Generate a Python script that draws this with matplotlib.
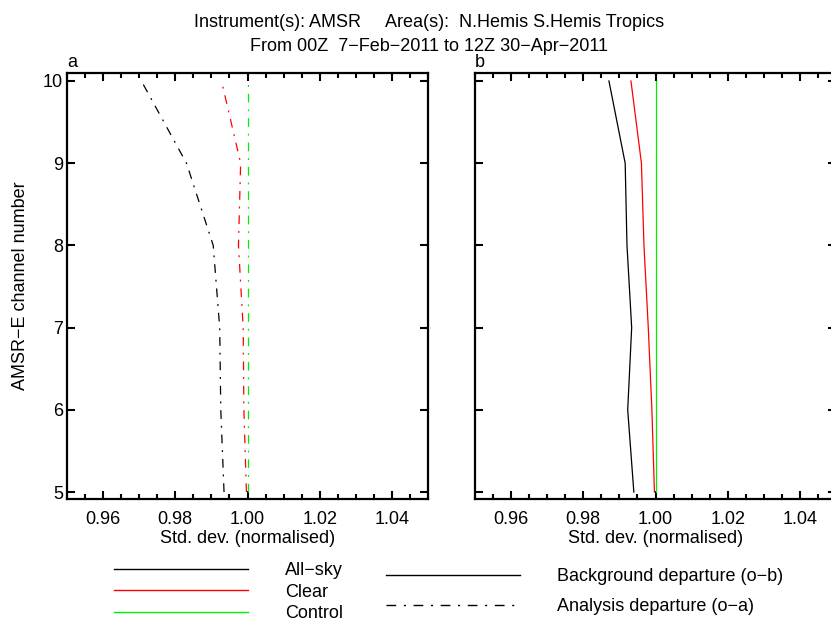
import matplotlib
matplotlib.use("Agg")
import matplotlib.pyplot as plt
from matplotlib.lines import Line2D
from matplotlib.ticker import MultipleLocator

plt.rcParams['font.family'] = ['Liberation Sans', 'DejaVu Sans']

channels = [5, 6, 7, 8, 9, 10]

# Panel a: analysis departure (o-a), normalised std. dev.
a_allsky = [0.9935, 0.9926, 0.9923, 0.9905, 0.9831, 0.9706]
a_clear = [0.9997, 0.9990, 0.9988, 0.9975, 0.9981, 0.9928]
a_control = [1.0, 1.0, 1.0, 1.0, 1.0, 1.0]

# Panel b: background departure (o-b), normalised std. dev.
b_allsky = [0.9940, 0.9923, 0.9934, 0.9921, 0.9916, 0.9871]
b_clear = [0.9997, 0.9990, 0.9980, 0.9968, 0.9961, 0.9932]
b_control = [1.0, 1.0, 1.0, 1.0, 1.0, 1.0]

series_labels = ["All\u2212sky", "Clear", "Control"]
series_colors = ["black", "red", "#00ee00"]
style_labels = ["Background departure (o\u2212b)", "Analysis departure (o\u2212a)"]

title1 = "Instrument(s): AMSR     Area(s):  N.Hemis S.Hemis Tropics"
title2 = "From 00Z  7\u2212Feb\u22122011 to 12Z 30\u2212Apr\u22122011"
xlabel = "Std. dev. (normalised)"
ylabel = "AMSR\u2212E channel number"

W, H = 831, 621
FS = 13
LFS = 13
fig = plt.figure(figsize=(W / 100, H / 100), dpi=100)

dashdot = (0, (7, 5.5, 1.5, 5.5))

def px(l, t, r, b):
    return [l / W, 1 - b / H, (r - l) / W, (b - t) / H]

ax_a = fig.add_axes(px(67, 73, 428, 499))
ax_b = fig.add_axes(px(475, 73, 836, 499))

for ax, data, ls, lab in [
    (ax_a, [a_allsky, a_clear, a_control], dashdot, "a"),
    (ax_b, [b_allsky, b_clear, b_control], "-", "b"),
]:
    for vals, c in zip(data, series_colors):
        ax.plot(vals, channels, color=c, linestyle=ls, lw=0.9)
    ax.set_xlim(0.95, 1.05)
    ax.set_ylim(4.915, 10.097)
    ax.xaxis.set_minor_locator(MultipleLocator(0.005))
    ax.set_xticks([0.96, 0.98, 1.00, 1.02, 1.04])
    ax.set_xticklabels(["0.96", "0.98", "1.00", "1.02", "1.04"])
    ax.set_yticks(channels)
    ax.tick_params(which="both", direction="in", top=True, right=True,
                   labelsize=FS, width=1.5)
    ax.tick_params(which="major", length=6)
    ax.tick_params(which="minor", length=3.5)
    ax.tick_params(axis="x", pad=8.5)
    ax.tick_params(axis="y", pad=3)
    for s in ax.spines.values():
        s.set_linewidth(1.6)
    ax.set_xlabel(xlabel, fontsize=FS, labelpad=1.5)
    ax.text(0.0, 1.005, lab, transform=ax.transAxes, fontsize=FS,
            ha="left", va="bottom")

ax_a.set_yticklabels([str(c) for c in channels])
ax_b.tick_params(axis="y", labelleft=False)

fig.text(21 / W, 1 - 286 / H, ylabel, rotation=90, ha="center", va="center",
         fontsize=FS)

fig.text(429 / W, 1 - 27 / H, title1, ha="center", va="baseline", fontsize=FS)
fig.text(429 / W, 1 - 51 / H, title2, ha="center", va="baseline", fontsize=FS)

h1 = [Line2D([], [], color=c, lw=1.0) for c in series_colors]
fig.legend(h1, series_labels, loc="upper left",
           bbox_to_anchor=(114 / W, 1 - 562 / H), frameon=False,
           fontsize=LFS, handlelength=7.42, handletextpad=2.05,
           labelspacing=0.25, borderpad=0, borderaxespad=0)
h2 = [Line2D([], [], color="black", lw=1.0, linestyle="-"),
      Line2D([], [], color="black", lw=1.0, linestyle=dashdot)]
fig.legend(h2, style_labels, loc="upper left",
           bbox_to_anchor=(386 / W, 1 - 568 / H), frameon=False,
           fontsize=LFS, handlelength=7.42, handletextpad=2.05,
           labelspacing=0.74, borderpad=0, borderaxespad=0)

fig.savefig("out.png", dpi=100)
